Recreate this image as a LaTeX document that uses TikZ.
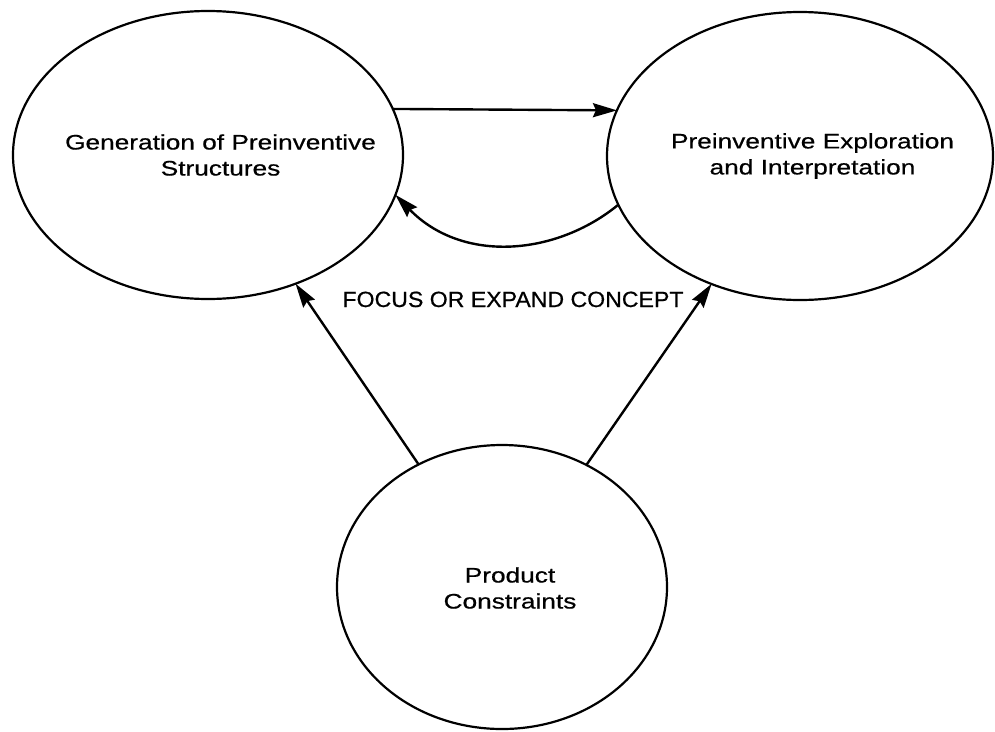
\documentclass[tikz,border=0pt]{standalone}
\usepackage{fontspec}
\setmainfont{Liberation Sans}
\newfontfamily\ovalfont[FakeStretch=1.25,FakeBold=0.6]{Liberation Sans}
\newfontfamily\capsfont[FakeStretch=1.05,FakeBold=0.6]{Liberation Sans}
\usetikzlibrary{shapes.geometric,arrows.meta}
\begin{document}
\begin{tikzpicture}[x=1pt,y=-1pt,
  oval/.style={ellipse,draw,line width=2.2pt,inner sep=0pt,outer sep=0pt},
  ovaltext/.style={align=center,inner sep=0pt,font=\ovalfont\fontsize{21}{26}\selectfont},
  flow/.style={line width=2.4pt,-{Stealth[length=24pt,width=14pt,inset=3pt]}}]
  \useasboundingbox (0,0) rectangle (995,731);

  % the three stages
  \node[oval,minimum width=390pt,minimum height=288pt] (gen) at (208,155) {};
  \node[oval,minimum width=386pt,minimum height=288pt] (expl) at (800,156) {};
  \node[oval,minimum width=330pt,minimum height=284pt] (cons) at (502,587) {};

  \node[ovaltext] (gentext) at (220.5,155) {Generation of Preinventive\\Structures};
  \node[ovaltext] (expltext) at (812.5,156) {Preinventive Exploration\\and Interpretation};
  \node[ovaltext] (constext) at (510,588) {Product\\Constraints};

  % cycle between generation and exploration
  \draw[flow] (gen.14) -- (expl.166);
  \draw[flow] (expl.195.6) .. controls +(-62,51) and +(67,69) .. (gen.348.7);

  % constraints feeding both stages
  \draw[flow] (cons) -- (gen);
  \draw[flow] (cons) -- (expl);

  \node[anchor=base,inner sep=0pt,font=\capsfont\fontsize{22}{26}\selectfont] (focus) at (513,307) {FOCUS OR EXPAND CONCEPT};
\end{tikzpicture}
\end{document}
